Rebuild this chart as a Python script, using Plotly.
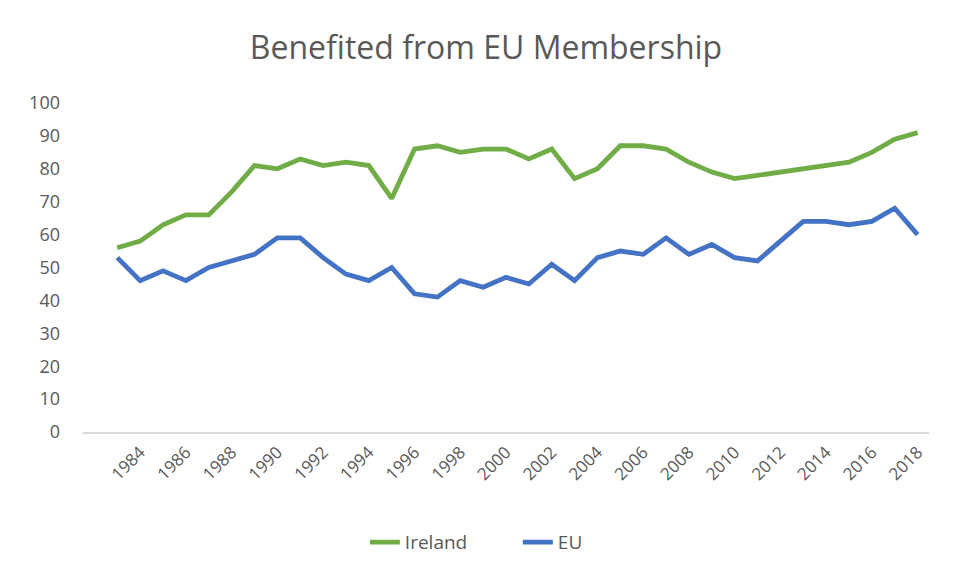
import plotly.graph_objects as go

years = list(range(1983, 2019))
ireland = [56, 58, 63, 66, 66, 73, 81, 80, 83, 81, 82, 81, 71, 86, 87, 85, 86, 86,
           83, 86, 77, 80, 87, 87, 86, 82, 79, 77, 78, 79, 80, 81, 82, 85, 89, 91]
eu = [53, 46, 49, 46, 50, 52, 54, 59, 59, 53, 48, 46, 50, 42, 41, 46, 44, 47,
      45, 51, 46, 53, 55, 54, 59, 54, 57, 53, 52, 58, 64, 64, 63, 64, 68, 60]
tick_years = list(range(1984, 2019, 2))
y_ticks = list(range(0, 101, 10))

grey = '#595959'
fig = go.Figure()

fig.add_trace(go.Scatter(
    x=years, y=ireland, mode='lines', name='Ireland',
    line=dict(color='#70ad47', width=4.8)
))
fig.add_trace(go.Scatter(
    x=years, y=eu, mode='lines', name='EU',
    line=dict(color='#4472c4', width=4.8)
))

fig.update_layout(
    width=956, height=579,
    paper_bgcolor='white', plot_bgcolor='white',
    margin=dict(l=75, r=35, t=95, b=155),
    font=dict(family='Open Sans, sans-serif', color=grey),
    title=dict(text='Benefited from EU Membership', x=0.5, xanchor='center',
               y=0.931, yanchor='middle',
               font=dict(size=32, color=grey)),
    xaxis=dict(
        range=[1981.5, 2018.5], tickvals=tick_years, ticktext=[str(y) for y in tick_years],
        tickangle=-45, tickfont=dict(size=17, color=grey),
        showgrid=False, zeroline=False, showline=True, linecolor='#d9d9d9',
        linewidth=1.5, ticks='', ticklabelstandoff=2
    ),
    yaxis=dict(
        range=[0, 100], tickvals=y_ticks, tickfont=dict(size=18, color=grey),
        showgrid=False, zeroline=False, showline=False, ticks='',
        ticklabelstandoff=22
    ),
    legend=dict(orientation='h', x=0.514, xanchor='center', y=-0.335, yanchor='middle',
                font=dict(size=19, color=grey), traceorder='normal',
                entrywidth=108),
)

fig.write_html("out.html")
